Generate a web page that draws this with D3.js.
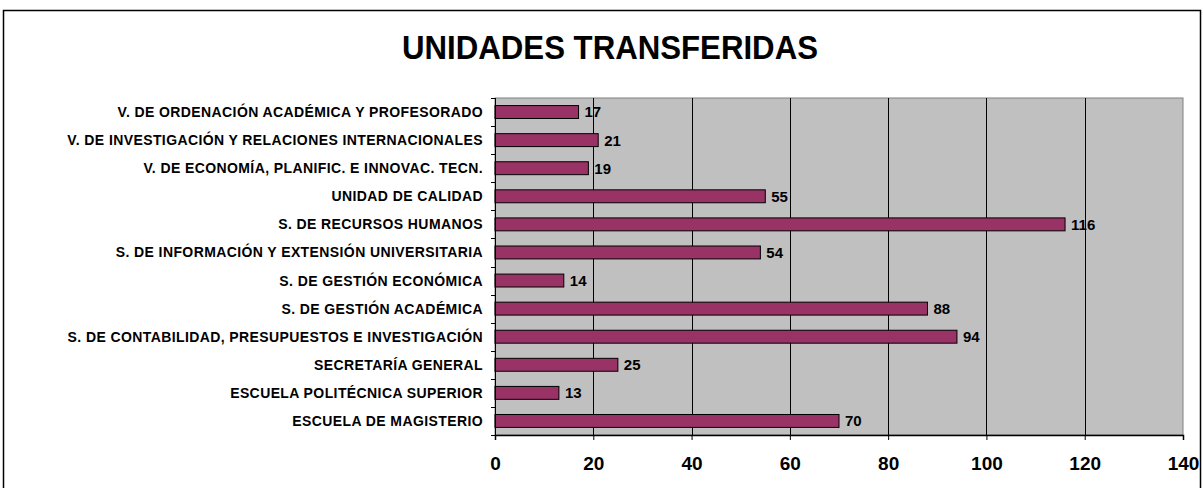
<!DOCTYPE html>
<html><head><meta charset="UTF-8"><style>
body { margin: 0; background: #fff; }
text { font-family: "Liberation Sans", Arial, sans-serif; font-weight: bold; }
</style>
</head>
<body>
<svg width="1203" height="488"></svg>
<script src="https://cdn.jsdelivr.net/npm/d3@7"></script>
<script>

var titleText = "UNIDADES TRANSFERIDAS";
var categories = [
    "V. DE ORDENACIÓN ACADÉMICA Y PROFESORADO",
    "V. DE INVESTIGACIÓN Y RELACIONES INTERNACIONALES",
    "V. DE ECONOMÍA, PLANIFIC. E INNOVAC. TECN.",
    "UNIDAD DE CALIDAD",
    "S. DE RECURSOS HUMANOS",
    "S. DE INFORMACIÓN Y EXTENSIÓN UNIVERSITARIA",
    "S. DE GESTIÓN ECONÓMICA",
    "S. DE GESTIÓN ACADÉMICA",
    "S. DE CONTABILIDAD, PRESUPUESTOS E INVESTIGACIÓN",
    "SECRETARÍA GENERAL",
    "ESCUELA POLITÉCNICA SUPERIOR",
    "ESCUELA DE MAGISTERIO"
];
var values = [17, 21, 19, 55, 116, 54, 14, 88, 94, 25, 13, 70];
var xTicks = [0, 20, 40, 60, 80, 100, 120, 140];

var svg = d3.select("svg"),
    margin = {top: 98, right: 20, bottom: 53, left: 495},
    width = 1183 - margin.left,
    height = 435 - margin.top;

// outer frame
svg.append("rect")
    .attr("x", 3.5).attr("y", 10.5)
    .attr("width", 1197).attr("height", 490)
    .attr("fill", "none").attr("stroke", "#000").attr("stroke-width", 1.5);

svg.append("text")
    .attr("x", 610).attr("y", 59)
    .attr("text-anchor", "middle")
    .attr("font-size", 33)
    .attr("textLength", 416)
    .attr("lengthAdjust", "spacingAndGlyphs")
    .text(titleText);

var g = svg.append("g").attr("transform", "translate(" + margin.left + "," + margin.top + ")");

var x = d3.scaleLinear().domain([0, 140]).range([0, width]);
var y = d3.scaleBand().domain(categories).range([0, height]).paddingInner(0.54).paddingOuter(0.27);

// plot area
g.append("rect")
    .attr("width", width).attr("height", height)
    .attr("fill", "#c0c0c0").attr("stroke", "#808080");

// gridlines
g.append("g")
  .selectAll("line")
  .data(xTicks.slice(1, -1))
  .enter().append("line")
    .attr("x1", function(d) { return Math.round(x(d)) + 0.5; })
    .attr("x2", function(d) { return Math.round(x(d)) + 0.5; })
    .attr("y1", 0).attr("y2", height)
    .attr("stroke", "#000");

// bars
g.append("g")
  .selectAll("rect")
  .data(values)
  .enter().append("rect")
    .attr("x", 0)
    .attr("y", function(d, i) { return y(categories[i]); })
    .attr("width", function(d) { return x(d); })
    .attr("height", y.bandwidth())
    .attr("fill", "#993366")
    .attr("stroke", "#000")
    .attr("stroke-width", 1);

// value labels
g.append("g")
  .selectAll("text")
  .data(values)
  .enter().append("text")
    .attr("x", function(d) { return x(d) + 6; })
    .attr("y", function(d, i) { return y(categories[i]) + y.bandwidth() / 2; })
    .attr("dy", "0.36em")
    .attr("font-size", 15)
    .text(function(d) { return d; });

// y axis: boundary ticks + labels
var step = height / categories.length;
var yAxis = g.append("g");
yAxis.append("line")
    .attr("x1", 0.5).attr("x2", 0.5).attr("y1", 0).attr("y2", height + 5)
    .attr("stroke", "#000");
yAxis.selectAll(".tk")
  .data(d3.range(categories.length + 1))
  .enter().append("line")
    .attr("x1", -4).attr("x2", 0)
    .attr("y1", function(i) { return Math.round(i * step) + 0.5; })
    .attr("y2", function(i) { return Math.round(i * step) + 0.5; })
    .attr("stroke", "#000");
yAxis.selectAll("text")
  .data(categories)
  .enter().append("text")
    .attr("x", -12)
    .attr("y", function(d) { return y(d) + y.bandwidth() / 2; })
    .attr("dy", "0.36em")
    .attr("text-anchor", "end")
    .attr("font-size", 14)
    .attr("letter-spacing", 0.4)
    .text(function(d) { return d; });

// x axis
var xAxis = g.append("g").attr("transform", "translate(0," + height + ")")
    .call(d3.axisBottom(x).tickValues(xTicks).tickSize(5).tickPadding(17));
xAxis.select(".domain").attr("stroke", "#000").attr("stroke-width", 1.5);
xAxis.selectAll("text").attr("font-size", 19).attr("fill", "#000")
    .attr("font-family", "Liberation Sans, Arial, sans-serif");

</script>
</body></html>
